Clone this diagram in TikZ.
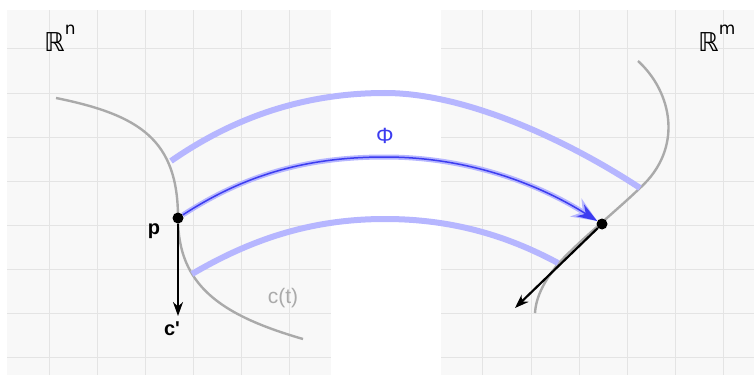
\documentclass[tikz,border=0pt]{standalone}
\usepackage{fontspec}
\setmainfont{Liberation Sans}[Ligatures=TeXOff]
\newfontfamily\dsfont{DejaVu Sans}
\usetikzlibrary{arrows.meta, backgrounds}
\definecolor{paper}{RGB}{248, 248, 248}
\definecolor{gridgray}{RGB}{228, 228, 228}
\definecolor{curvegray}{RGB}{170, 170, 170}
\definecolor{bandblue}{RGB}{182, 182, 255}
\definecolor{phiblue}{RGB}{60, 60, 240}

\begin{document}
\begin{tikzpicture}[x=1pt, y=-1pt,
        gridline/.style={gridgray, line width=0.8pt},
        curve/.style={curvegray, line width=2.4pt},
        band/.style={bandblue, line width=6pt},
        dot/.style={circle, fill=black, inner sep=0pt, minimum size=11pt},
        vec/.style={line width=2.2pt, -{Stealth[length=14pt, width=10pt]}},
        lbl/.style={font=\fontsize{20}{20}\selectfont\bfseries},
        space/.style={font=\dsfont\fontsize{26}{26}\selectfont, anchor=base west, inner sep=0pt}]
        \useasboundingbox (0,0) rectangle (754,385);

        % 两个空间的底纸和网格
        \begin{scope}[on background layer]
            \fill[paper] (7,10) rectangle (331,375);
            \fill[paper] (441,10) rectangle (754,375);
            \foreach \x in {49, 97, 145, 193, 241, 289} {
                \draw[gridline] (\x,10) -- (\x,375);
            }
            \foreach \x in {482, 531, 579, 627, 675, 723} {
                \draw[gridline] (\x,10) -- (\x,375);
            }
            \foreach \y in {48, 93, 137, 181, 225, 269, 313, 357} {
                \draw[gridline] (7,\y) -- (331,\y);
                \draw[gridline] (441,\y) -- (754,\y);
            }

            % 曲线 c(t) 和它的像
            \draw[curve] (56,98) .. controls (140,115) and (178,140) .. (178,218)
                .. controls (178,285) and (220,315) .. (303,339);
            \draw[curve] (638,61) .. controls (672,92) and (684,148) .. (640,188)
                .. controls (615,212) and (580,240) .. (558,264)
                .. controls (545,280) and (536,296) .. (535,313);
        \end{scope}

        % 点 p 和 Phi(p)
        \node[dot] (p) at (178,218) {};
        \node[dot] (q) at (602,224) {};
        \coordinate (cend) at (178,316);
        \coordinate (qend) at (515,308);

        % 映射 Phi 的带子
        \begin{scope}[on background layer]
            \draw[band] (171,161) .. controls (230,120) and (300,93) .. (385,93)
                .. controls (470,93) and (575,145) .. (640,188);
            \draw[band] (192,274) .. controls (250,240) and (310,219) .. (385,219)
                .. controls (460,219) and (515,240) .. (558,263);
            \draw[band, line width=5pt, -{Stealth[length=25pt, width=21pt]}]
                (p) .. controls (240,178) and (300,157) .. (385,157)
                .. controls (470,157) and (540,185) .. (q);
            \draw[phiblue, line width=1.5pt, -{Stealth[length=20pt, width=14pt]}]
                (p) .. controls (240,178) and (300,157) .. (385,157)
                .. controls (470,157) and (540,185) .. (q);
        \end{scope}

        % 切向量
        \draw[vec] (p) -- (cend);
        \draw[vec] (q) -- (qend);

        % 标签
        \node[lbl] (plabel) at (154,231) {p};
        \node[lbl] (clabel) at (172,329) {c'};
        \node[font=\fontsize{21}{21}\selectfont, text=curvegray] (ctlabel) at (283,298) {c(t)};
        \node[font=\fontsize{22}{22}\selectfont, text=phiblue] (philabel) at (385,136) {Φ};
        \node[space] (rn) at (44,52) {ℝ\raisebox{17pt}{\fontsize{17}{17}\selectfont n}};
        \node[space] (rm) at (698,52) {ℝ\raisebox{17pt}{\fontsize{17}{17}\selectfont m}};
    \end{tikzpicture}
\end{document}
